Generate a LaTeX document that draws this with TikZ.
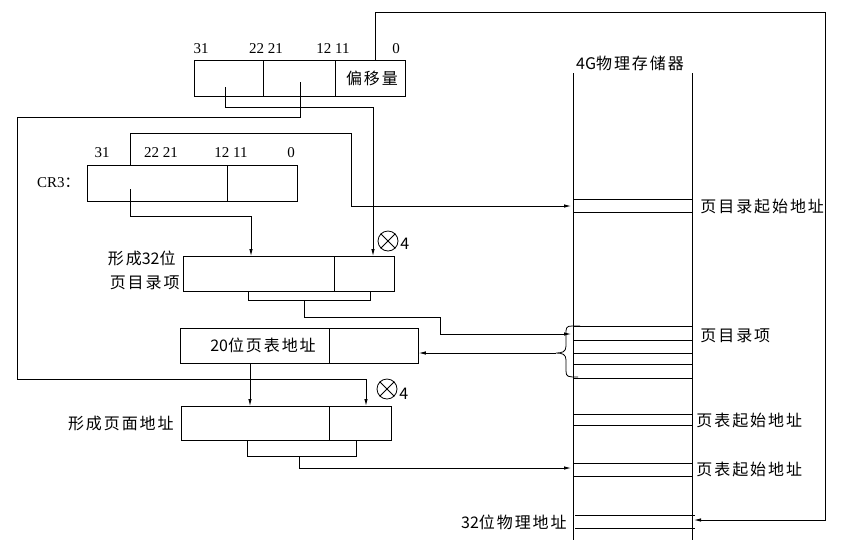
\documentclass[tikz,border=0pt]{standalone}
\usepackage{fontspec}
\setmainfont{Liberation Serif}
\newfontfamily\cjk[LetterSpace=12]{Noto Sans CJK SC}
\newfontfamily\cjkd{Noto Sans CJK SC}
\usetikzlibrary{arrows.meta}

\tikzset{
  reg/.style={draw, rectangle, inner sep=0pt, anchor=north west},
  arr/.style={-{Latex[length=7pt,width=3.5pt]}},
  bit/.style={font=\fontsize{15}{15}\selectfont, inner sep=0pt},
  lbl/.style={font=\cjk\fontsize{16}{16}\selectfont, inner sep=0pt},
  mulfour/.style={draw, circle, minimum size=20pt, inner sep=0pt},
}
\newcommand{\dg}[1]{{\cjkd #1}}

\begin{document}
\begin{tikzpicture}[x=1pt,y=1pt,yscale=-1,line width=0.8pt]
\useasboundingbox (0,0) rectangle (845,550);
% linear address
\node[reg,minimum width=211pt,minimum height=36pt] (lin) at (194,60) {};
\draw (263,60) -- (263,96);
\draw (335,60) -- (335,96);
\node[bit] (l31) at (201,49) {31};
\node[bit] (l22) at (266,49) {22 21};
\node[bit] (l12) at (333,49) {12 11};
\node[bit] (l0) at (396,49) {0};
\node[lbl] (offs) at (372,78) {偏移量};
% CR3
\node[reg,minimum width=210pt,minimum height=36pt] (cr3) at (87,165) {};
\draw (227,165) -- (227,201);
\node[bit,anchor=east] (cr3l) at (80,183) {CR3{\cjkd ：}};
\node[bit] (c31) at (102,153) {31};
\node[bit] (c22) at (161,153) {22 21};
\node[bit] (c12) at (231,153) {12 11};
\node[bit] (c0) at (291,153) {0};
% page directory entry
\node[reg,minimum width=211pt,minimum height=35pt] (pde) at (183,256) {};
\draw (334,256) -- (334,291);
\node[lbl,anchor=east] (pdea) at (176,258) {形成\dg{32}位};
\node[lbl,anchor=east] (pdeb) at (180,283) {页目录项};
\node[mulfour] (m1) at (388,241) {};
\draw (m1.north west) -- (m1.south east);
\draw (m1.north east) -- (m1.south west);
\node[lbl,anchor=west] (m1n) at (400,244) {4};
% page table address
\node[reg,minimum width=238pt,minimum height=35pt] (pta) at (180,328) {};
\draw (329,328) -- (329,363);
\node[lbl] (ptal) at (263,345) {\dg{20}位页表地址};
% page address
\node[reg,minimum width=210pt,minimum height=34pt] (pga) at (181,406) {};
\draw (329,406) -- (329,440);
\node[lbl,anchor=east] (pgal) at (174,423) {形成页面地址};
\node[mulfour] (m2) at (387,389) {};
\draw (m2.north west) -- (m2.south east);
\draw (m2.north east) -- (m2.south west);
\node[lbl,anchor=west] (m2n) at (399,394) {4};
% 4G memory
\node[lbl] (mem) at (630,63) {\dg{4G}物理存储器};
\draw (573,73) -- (573,540);
\draw (692,73) -- (692,540);
\foreach \y in {199,212,326,340,353,364,378,414,425,463,476}
  \draw (573,\y) -- (692,\y);
\draw (575,515) -- (695,515);
\draw (575,528) -- (695,528);
\node[lbl,anchor=west] (pdbl) at (700,206) {页目录起始地址};
\node[lbl,anchor=west] (pdel) at (700,336) {页目录项};
\node[lbl,anchor=west] (ptb1) at (696,420) {页表起始地址};
\node[lbl,anchor=west] (ptb2) at (696,469) {页表起始地址};
\node[lbl,anchor=east] (phyl) at (567,522) {\dg{32}位物理地址};
% targets
\coordinate (pdbase) at (571,206);
\coordinate (pdent) at (571,334);
\coordinate (ptbase) at (571,468);
\coordinate (phys) at (694,520);
\coordinate (brtip) at (556,353);
% connectors
\draw[arr] (375,60) |- (825,12) |- (phys);
\draw[arr] (225,87) |- (373,107) -- (373,256);
\draw[arr,line width=1pt] (300,82) |- (17,117) |- (366,379) -- (366,406);
\draw[arr] (130,165) |- (351,133) |- (pdbase);
\draw[arr] (130,189) |- (251,216) -- (251,256);
\draw (248,291) |- (370,300) -- (370,291);
\draw[arr] (304,300) |- (440,317) |- (pdent);
\draw (580,326) -- (572,326) .. controls (566,326) and (566,328) .. (566,334)
  -- (566,346) .. controls (566,352) and (562,353) .. (brtip)
  .. controls (562,353) and (566,354) .. (566,360) -- (566,371)
  .. controls (566,377) and (568,377) .. (578,377);
\draw[arr] (brtip) -- (brtip -| pta.east);
\draw[arr] (250,363) -- (250,406);
\draw (247,440) |- (356,456) -- (356,440);
\draw[arr] (299,456) |- (ptbase);
\end{tikzpicture}
\end{document}
